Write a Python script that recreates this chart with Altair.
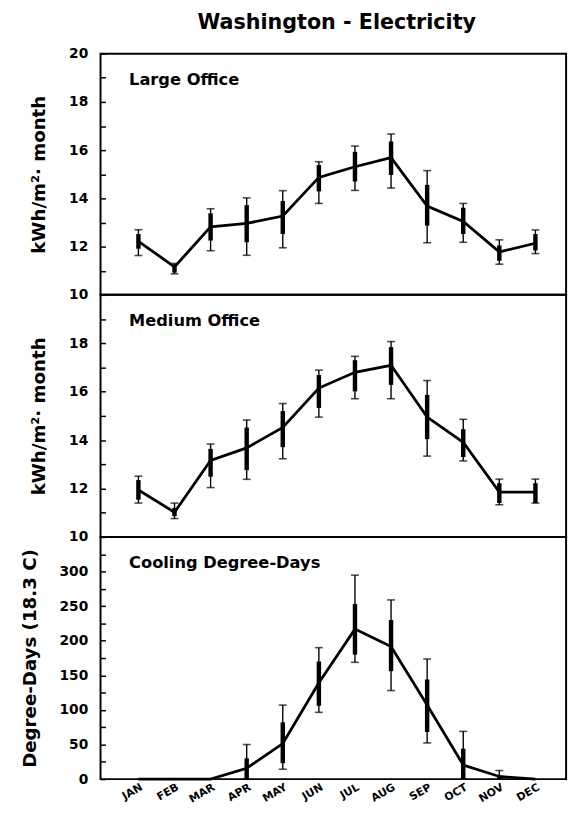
import altair as alt
import pandas as pd
import numpy as np

TITLE = "Washington - Electricity"
MONTHS = ["JAN", "FEB", "MAR", "APR", "MAY", "JUN", "JUL", "AUG", "SEP", "OCT", "NOV", "DEC"]

# Large Office (kWh/m2 month)
LO_MEAN = [12.22, 11.16, 12.82, 12.96, 13.27, 14.87, 15.31, 15.69, 13.68, 13.04, 11.78, 12.14]
LO_LOW = [11.63, 10.87, 11.83, 11.64, 11.95, 13.79, 14.33, 14.43, 12.16, 12.18, 11.27, 11.71]
LO_HIGH = [12.70, 11.30, 13.57, 14.02, 14.32, 15.52, 16.17, 16.67, 15.15, 13.79, 12.28, 12.69]
LO_LOW2 = [11.91, 10.92, 12.25, 12.18, 12.52, 14.29, 14.70, 14.97, 12.87, 12.52, 11.41, 11.84]
LO_HIGH2 = [12.52, 11.26, 13.38, 13.72, 13.89, 15.38, 15.93, 16.36, 14.56, 13.61, 12.05, 12.52]

# Medium Office (kWh/m2 month)
MO_MEAN = [11.94, 11.02, 13.16, 13.68, 14.52, 16.15, 16.80, 17.09, 14.95, 13.91, 11.85, 11.85]
MO_LOW = [11.40, 10.76, 12.04, 12.38, 13.23, 14.95, 15.71, 15.71, 13.34, 13.14, 11.33, 11.40]
MO_HIGH = [12.51, 11.40, 13.84, 14.83, 15.51, 16.89, 17.46, 18.07, 16.46, 14.86, 12.39, 12.39]
MO_LOW2 = [11.54, 10.86, 12.49, 12.76, 13.71, 15.33, 16.01, 16.28, 14.04, 13.30, 11.40, 11.40]
MO_HIGH2 = [12.35, 11.20, 13.64, 14.52, 15.20, 16.69, 17.30, 17.84, 15.87, 14.45, 12.22, 12.22]

# Cooling Degree-Days (18.3 C)
NA = None
CDD_MEAN = [0, 0, 0, 15.7, 51.4, 139.3, 216.8, 191.6, 107.0, 20.4, 3.8, 0]
CDD_LOW = [NA, NA, NA, 0, 14.3, 96.5, 168.8, 128.0, 52.3, 0, 0, NA]
CDD_HIGH = [NA, NA, NA, 50, 107.0, 190.0, 294.8, 259.0, 173.6, 69.0, 12.4, NA]
CDD_LOW2 = [NA, NA, NA, 0, 23.0, 106.0, 180.0, 156.0, 68.0, 0, 0, NA]
CDD_HIGH2 = [NA, NA, NA, 30, 82.0, 170.0, 253.0, 230.0, 144.0, 44.0, 4.0, NA]

FONT = "DejaVu Sans"
W = 473
label_expr = "[" + ",".join("'%s'" % m for m in MONTHS) + "][datum.value]"


def panel(mean, low, high, low2, high2, label, ydom, yvals, lab_step, lab_max, ytitle, height,
          show_x, title=None):
    df = pd.DataFrame({
        "m": list(range(12)),
        "mean": mean,
        "low": [np.nan if v is None else v for v in low],
        "high": [np.nan if v is None else v for v in high],
        "low2": [np.nan if v is None else v for v in low2],
        "high2": [np.nan if v is None else v for v in high2],
    })
    if show_x:
        xaxis = alt.Axis(values=list(range(12)), labelExpr=label_expr, title=None,
                         ticks=False, domain=False, grid=False, labelAngle=330,
                         labelAlign="right", labelBaseline="top", labelFontSize=11,
                         labelFontWeight="bold", labelPadding=2, labelFont=FONT,
                         labelColor="black")
    else:
        xaxis = None
    x = alt.X("m:Q", scale=alt.Scale(domain=[-1.05, 11.85], nice=False, zero=False), axis=xaxis)
    yscale = alt.Scale(domain=ydom, nice=False, zero=False)
    yaxis = alt.Axis(values=yvals,
                     labelExpr="(datum.value %% %s == 0 && datum.value <= %s) ? datum.label : ''" % (lab_step, lab_max),
                     offset=-5, tickSize=5, tickColor="black", tickWidth=1.5,
                     domain=False, grid=False, labelPadding=13,
                     labelFontSize=14, labelFontWeight="bold", labelFont=FONT, labelColor="black",
                     title=ytitle, titleFontSize=18.5, titleFontWeight="bold", titleFont=FONT,
                     titleColor="black", titlePadding=20)
    base = alt.Chart(df)
    line = base.mark_line(color="black", strokeWidth=2.8).encode(
        x=x, y=alt.Y("mean:Q", scale=yscale, axis=yaxis))
    eb = base.transform_filter("isValid(datum.low)")
    whisk = eb.mark_rule(color="black", strokeWidth=1.4).encode(
        x=x, y=alt.Y("low:Q", scale=yscale, axis=yaxis), y2="high:Q")
    thick = eb.mark_rule(color="black", strokeWidth=4.5).encode(
        x=x, y=alt.Y("low2:Q", scale=yscale, axis=yaxis), y2="high2:Q")
    cap_lo = eb.mark_tick(color="black", orient="horizontal", size=8, thickness=1.6).encode(
        x=x, y=alt.Y("low:Q", scale=yscale, axis=yaxis))
    cap_hi = eb.mark_tick(color="black", orient="horizontal", size=8, thickness=1.6).encode(
        x=x, y=alt.Y("high:Q", scale=yscale, axis=yaxis))
    txt = alt.Chart(pd.DataFrame({"t": [label]})).mark_text(
        align="left", baseline="alphabetic", fontSize=16.5, fontWeight="bold", font=FONT, color="black"
    ).encode(text="t:N", x=alt.value(29), y=alt.value(32))
    layers = [whisk, thick, cap_lo, cap_hi, line, txt]
    if title:
        ttl = alt.Chart(pd.DataFrame({"t": [title]})).mark_text(
            align="center", baseline="alphabetic", fontSize=21, fontWeight="bold", font=FONT,
            color="black"
        ).encode(text="t:N", x=alt.value(W / 2 + 3.5), y=alt.value(-25))
        layers.append(ttl)
    return alt.layer(*layers).properties(width=W, height=height)


top = panel(LO_MEAN, LO_LOW, LO_HIGH, LO_LOW2, LO_HIGH2, "Large Office", [10, 20],
            list(range(10, 21)), 2, 20, "kWh/m²· month", 245, False, title=TITLE)
mid = panel(MO_MEAN, MO_LOW, MO_HIGH, MO_LOW2, MO_HIGH2, "Medium Office", [10, 20],
            list(range(10, 20)), 2, 18, "kWh/m²· month", 246, False)
bot = panel(CDD_MEAN, CDD_LOW, CDD_HIGH, CDD_LOW2, CDD_HIGH2, "Cooling Degree-Days", [0, 350],
            list(range(0, 350, 25)), 50, 300, "Degree-Days (18.3 C)", 246, True)

chart = alt.vconcat(top, mid, bot, spacing=0, bounds="flush").properties(
    padding={"left": 11, "top": -3, "right": 5, "bottom": 0},
).configure_view(stroke="black", strokeWidth=2).configure_axis(grid=False)

chart.save("out.html", embed_options={"renderer": "svg", "actions": False})
